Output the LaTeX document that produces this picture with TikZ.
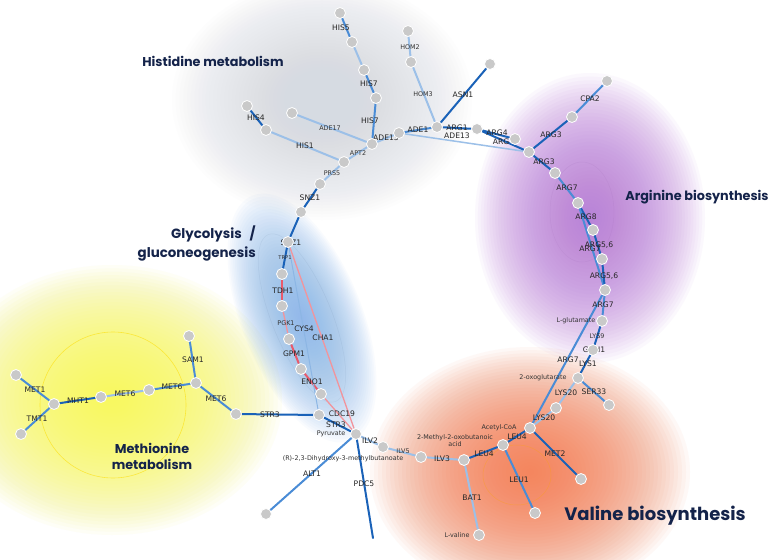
\documentclass[tikz,border=0pt]{standalone}
\usepackage{fontspec}
\setmainfont{DejaVu Sans}
\newfontfamily\titlefont{Poppins}
\definecolor{dkb}{HTML}{1A62B8}
\definecolor{mdb}{HTML}{4A8CD6}
\definecolor{ltb}{HTML}{9CC0E8}
\definecolor{rdl}{HTML}{F2949C}
\definecolor{rdd}{HTML}{E85A6C}
\definecolor{navy}{HTML}{14234A}
\definecolor{nodegray}{HTML}{C9C9C9}
\definecolor{blobyel}{HTML}{F8F850}
\definecolor{blobblue}{HTML}{8AB8EA}
\definecolor{blobgray}{HTML}{D6DBE2}
\definecolor{blobpur}{HTML}{B878D8}
\definecolor{bloborg}{HTML}{F47A4E}
\pgfdeclarelayer{blobs}
\pgfdeclarelayer{edges}
\pgfsetlayers{blobs,edges,main}
\newcommand\mkblob[6]{%
  \foreach \s in {1.000,0.975,...,0.02} {%
    \fill[#1, opacity=0.046, rotate around={#6:(#2,#3)}] (#2,#3) ellipse [x radius=\s*#4, y radius=\s*#5];}}
\begin{document}
\begin{tikzpicture}[x=1pt,y=-1pt,
  pt/.style={circle, fill=nodegray, draw=white, line width=0.8pt, minimum size=11pt, inner sep=0pt},
  e/.style={line width=2pt, line cap=round},
  ed/.style={e, draw=dkb},
  em/.style={e, draw=mdb},
  el/.style={e, draw=ltb},
  erd/.style={line width=2pt, draw=rdd},
  erl/.style={line width=1.3pt, draw=rdl},
  ethin/.style={line width=1pt, draw=ltb!80!mdb},
  lab/.style={font=\fontsize{7.6}{8.5}\selectfont, text=black!85, inner sep=0.5pt},
  slab/.style={font=\fontsize{6.4}{7}\selectfont, text=black!80, inner sep=0.5pt},
  ttl/.style={font=\titlefont\bfseries\fontsize{12.8}{19}\selectfont, text=navy, inner sep=0pt}]
\useasboundingbox (0,0) rectangle (772,560);

\begin{pgfonlayer}{blobs}
\fill[white] (0,0) rectangle (772,560);
\mkblob{blobyel}{112}{400}{170}{135}{0}
\mkblob{blobblue}{302}{318}{60}{132}{22}
\mkblob{blobgray}{322}{100}{150}{120}{0}
\mkblob{blobpur}{590}{218}{115}{145}{0}
\mkblob{bloborg}{530}{472}{160}{125}{0}
\draw[yellow!80!orange, line width=0.6pt, opacity=0.6] (113,405) circle [radius=73];
\draw[orange!70!yellow, line width=0.5pt, opacity=0.35] (517,475) ellipse [x radius=34, y radius=30];
\draw[blobpur!80!black, line width=0.5pt, opacity=0.12] (582,212) ellipse [x radius=32, y radius=50];
\draw[blobblue!70!black, line width=0.5pt, opacity=0.12, rotate around={22:(302,318)}] (302,318) ellipse [x radius=30, y radius=90];
\end{pgfonlayer}

% nodes
\node[pt] (his5a) at (340,13) {};
\node[pt] (his5b) at (352,42) {};
\node[pt] (his7a) at (364,70) {};
\node[pt] (his7b) at (376,98) {};
\node[pt] (ade13) at (372,144) {};
\node[pt] (his4a) at (247,106) {};
\node[pt] (his4b) at (266,130) {};
\node[pt] (ade17) at (292,113) {};
\node[pt] (apt2) at (344,162) {};
\node[pt] (prs5) at (320,184) {};
\node[pt] (snz1a) at (301,212) {};
\node[pt] (snz1b) at (288,242) {};
\node[pt] (tdh1a) at (282,274) {};
\node[pt] (tdh1b) at (282,306) {};
\node[pt] (gpm1a) at (289,339) {};
\node[pt] (eno1a) at (301,369) {};
\node[pt] (eno1b) at (321,394) {};
\node[pt] (cdc19) at (319,415) {};
\node[pt] (pyr) at (356,434) {};
\node[pt] (ade1) at (399,133) {};
\node[pt] (hom2) at (408,31) {};
\node[pt] (hom3) at (411,62) {};
\node[pt] (hub) at (437,127) {};
\node[pt] (asn1) at (490,64) {};
\node[pt] (arg1) at (477,129) {};
\node[pt] (arg4) at (515,139) {};
\node[pt] (arg3) at (529,152) {};
\node[pt] (cpa2a) at (572,117) {};
\node[pt] (cpa2b) at (607,81) {};
\node[pt] (arg3b) at (555,173) {};
\node[pt] (arg7a) at (578,203) {};
\node[pt] (arg8) at (593,230) {};
\node[pt] (arg56a) at (602,259) {};
\node[pt] (arg56b) at (605,290) {};
\node[pt] (lglu) at (602,321) {};
\node[pt] (gdh1) at (593,350) {};
\node[pt] (oxo) at (578,378) {};
\node[pt] (ser33) at (609,405) {};
\node[pt] (lys20a) at (556,408) {};
\node[pt] (acoa) at (530,428) {};
\node[pt] (met2) at (581,479) {};
\node[pt] (leu4) at (503,445) {};
\node[pt] (leu1) at (535,513) {};
\node[pt] (ilv3b) at (464,460) {};
\node[pt] (lval) at (479,535) {};
\node[pt] (ilv5) at (421,457) {};
\node[pt] (ilv2) at (383,447) {};
\node[pt] (alt1) at (266,514) {};
\coordinate (pdc5) at (373,538);
\node[pt] (met6d) at (236,414) {};
\node[pt] (met6c) at (196,383) {};
\node[pt] (sam1) at (189,336) {};
\node[pt] (met6b) at (149,390) {};
\node[pt] (met6a) at (101,397) {};
\node[pt] (mht1) at (54,404) {};
\node[pt] (met1) at (16,375) {};
\node[pt] (tmt1) at (21,434) {};

\begin{pgfonlayer}{edges}
% histidine
\draw[em] (his5a) -- (his5b);
\draw[el] (his5b) -- (his7a);
\draw[em] (his7a) -- (his7b);
\draw[em] (his7b) -- (ade13);
\draw[ed] (his4a) -- (his4b);
\draw[el] (his4b) -- (apt2);
\draw[el] (ade17) -- (ade13);
\draw[el] (apt2) -- (ade13);
\draw[el] (ade13) -- (ade1);
\draw[em] (ade1) -- (hub);
\draw[line width=1.5pt, draw=ltb] (ade1) -- (arg3);
\draw[el] (hom2) -- (hom3);
\draw[el] (hom3) -- (hub);
\draw[ed] (hub) -- (asn1);
\draw[ed] (hub) -- (arg1);
\draw[ed] (arg1) -- (arg4);
\draw[ed] (arg1) -- (arg3);
\draw[el] (apt2) -- (prs5);
\draw[ed] (prs5) -- (snz1a);
\draw[ed] (snz1a) -- (snz1b);
% arginine
\draw[ed] (arg3) -- (cpa2a);
\draw[em] (cpa2a) -- (cpa2b);
\draw[ed] (arg3) -- (arg3b);
\draw[em] (arg3b) -- (arg7a);
\draw[ed] (arg7a) -- (arg8);
\draw[em] (arg7a) -- (arg56b);
\draw[ed] (arg8) -- (arg56a);
\draw[ed] (arg56a) -- (arg56b);
\draw[em] (arg56b) -- (lglu);
\draw[em] (arg56b) -- (acoa);
\draw[ed] (lglu) -- (gdh1);
\draw[ed] (gdh1) -- (oxo);
\draw[em] (oxo) -- (ser33);
\draw[el] (oxo) -- (lys20a);
\draw[el] (lys20a) -- (acoa);
% valine
\draw[ed] (acoa) -- (met2);
\draw[ed] (acoa) -- (leu4);
\draw[em] (leu4) -- (leu1);
\draw[ed] (leu4) -- (ilv3b);
\draw[el] (ilv3b) -- (ilv5);
\draw[el] (ilv3b) -- (lval);
\draw[el] (ilv5) -- (ilv2);
\draw[el] (ilv2) -- (pyr);
% glycolysis
\draw[ed] (snz1b) -- (tdh1a);
\draw[erd] (tdh1a) -- (tdh1b);
\draw[erl] (tdh1b) -- (gpm1a);
\draw[erd] (gpm1a) -- (eno1a);
\draw[erd] (eno1a) -- (eno1b);
\draw[erl] (eno1b) -- (pyr);
\draw[erl] (snz1b) -- (pyr);
\draw[ethin] (snz1b) -- (cdc19);
\draw[ed] (cdc19) -- (pyr);
\draw[em] (pyr) -- (alt1);
\draw[ed] (pyr) -- (pdc5);
% methionine
\draw[ed] (met6d) -- (cdc19);
\draw[em] (met6c) -- (met6d);
\draw[em] (met6c) -- (sam1);
\draw[em] (met6b) -- (met6c);
\draw[el] (met6a) -- (met6b);
\draw[ed] (mht1) -- (met6a);
\draw[em] (mht1) -- (met1);
\draw[em] (mht1) -- (tmt1);

% labels
\node[lab] (l1) at (341,28) {HIS5};
\node[lab] (l2) at (369,84) {HIS7};
\node[lab] (l3) at (370,121) {HIS7};
\node[lab] (l4) at (256,118) {HIS4};
\node[lab] (l5) at (305,146) {HIS1};
\node[slab] (l6) at (330,128) {ADE17};
\node[slab] (l7) at (358,153) {APT2};
\node[lab] (l8) at (386,138) {ADE13};
\node[lab] (l9) at (418,130) {ADE1};
\node[slab] (l10) at (332,173) {PRS5};
\node[lab] (l11) at (310,198) {SNZ1};
\node[lab] (l12) at (291,243) {SNZ1};
\node[slab, font=\fontsize{5.2}{6}\selectfont] (l13) at (285,258) {TRP1};
\node[lab] (l14) at (283,291) {TDH1};
\node[slab] (l15) at (286,323) {PGK1};
\node[lab] (l16) at (304,329) {CYS4};
\node[lab] (l17) at (323,338) {CHA1};
\node[lab] (l18) at (294,354) {GPM1};
\node[lab] (l19) at (312,382) {ENO1};
\node[lab] (l20) at (342,414) {CDC19};
\node[lab] (l21) at (336,425) {STR3};
\node[lab] (l22) at (270,415) {STR3};
\node[slab] (l23) at (331,434) {Pyruvate};
\node[lab] (l24) at (370,441) {ILV2};
\node[slab] (l25) at (403,451) {ILV5};
\node[slab] (l26) at (343,459) {(R)-2,3-Dihydroxy-3-methylbutanoate};
\node[lab] (l27) at (442,459) {ILV3};
\node[lab] (l28) at (312,474) {ALT1};
\node[lab] (l29) at (364,484) {PDC5};
\node[slab, align=center] (l30) at (455,441) {2-Methyl-2-oxobutanoic\\acid};
\node[slab] (l31) at (499,428) {Acetyl-CoA};
\node[lab] (l32) at (517,437) {LEU4};
\node[lab] (l33) at (484,454) {LEU4};
\node[lab] (l34) at (519,480) {LEU1};
\node[lab] (l35) at (472,498) {BAT1};
\node[slab] (l36) at (457,535) {L-valine};
\node[lab] (l37) at (555,454) {MET2};
\node[lab] (l38) at (544,418) {LYS20};
\node[lab] (l39) at (566,393) {LYS20};
\node[lab] (l40) at (594,392) {SER33};
\node[slab] (l41) at (543,378) {2-oxoglutarate};
\node[lab] (l42) at (568,360) {ARG7};
\node[lab] (l43) at (588,364) {LYS1};
\node[lab] (l44) at (594,350) {GDH1};
\node[slab] (l45) at (597,336) {LYS9};
\node[slab] (l46) at (576,321) {L-glutamate};
\node[lab] (l47) at (603,305) {ARG7};
\node[lab] (l48) at (604,276) {ARG5,6};
\node[lab] (l49) at (590,249) {ARG7};
\node[lab] (l50) at (599,245) {ARG5,6};
\node[lab] (l51) at (586,217) {ARG8};
\node[lab] (l52) at (567,188) {ARG7};
\node[lab] (l53) at (544,162) {ARG3};
\node[lab] (l54) at (551,135) {ARG3};
\node[lab] (l55) at (590,99) {CPA2};
\node[lab] (l56) at (457,128) {ARG1};
\node[lab] (l57) at (457,136) {ADE13};
\node[lab] (l58) at (497,133) {ARG4};
\node[lab] (l59) at (501,142) {ARG};
\node[lab] (l60) at (463,95) {ASN1};
\node[slab] (l61) at (423,94) {HOM3};
\node[slab] (l62) at (410,47) {HOM2};
\node[lab] (l63) at (35,390) {MET1};
\node[lab] (l64) at (37,419) {TMT1};
\node[lab] (l65) at (78,401) {MHT1};
\node[lab] (l66) at (125,394) {MET6};
\node[lab] (l67) at (172,387) {MET6};
\node[lab] (l68) at (193,360) {SAM1};
\node[lab] (l69) at (216,399) {MET6};
\end{pgfonlayer}

% titles
\node[ttl] (t-his) at (213,61) {Histidine metabolism};
\node[ttl] (t-arg) at (697,197) {Arginine biosynthesis};
\node[ttl, align=right, anchor=east, font=\titlefont\bfseries\fontsize{13.4}{19}\selectfont] (t-gly) at (256,243) {Glycolysis\hspace{8pt}/\\gluconeogenesis};
\node[ttl, align=center, font=\titlefont\bfseries\fontsize{12.8}{16}\selectfont] (t-met) at (152,456) {Methionine\\metabolism};
\node[ttl, font=\titlefont\bfseries\fontsize{18}{22}\selectfont] (t-val) at (655,516) {Valine biosynthesis};
\end{tikzpicture}
\end{document}
